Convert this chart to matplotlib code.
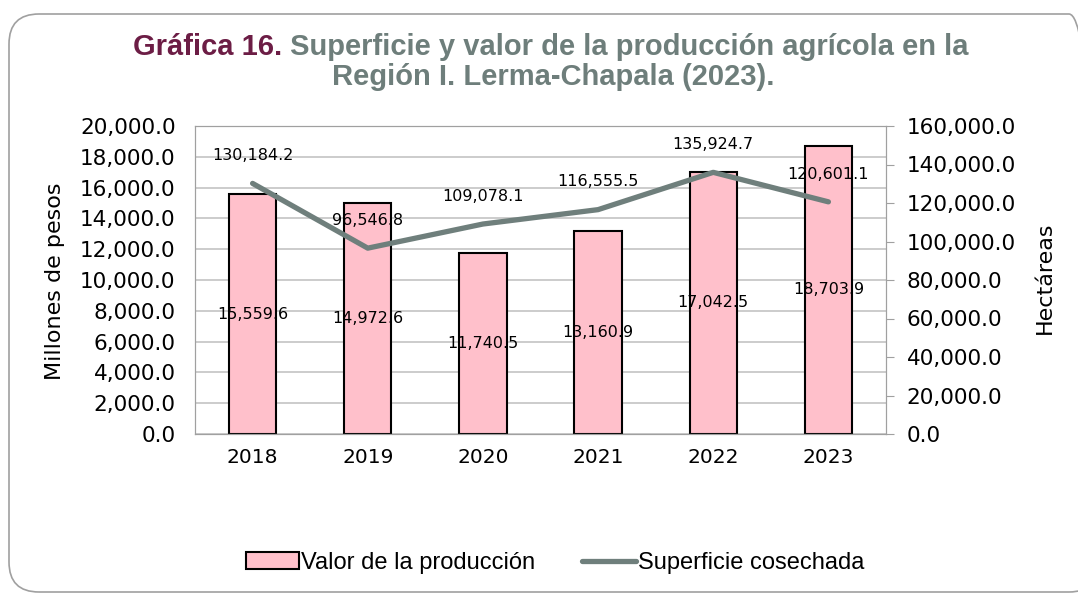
import numpy as np
import matplotlib
matplotlib.use("Agg")
import matplotlib.pyplot as plt
from matplotlib.patches import FancyBboxPatch, Patch
from matplotlib.lines import Line2D
from matplotlib.ticker import FuncFormatter
from matplotlib.transforms import IdentityTransform

# data
years = ["2018", "2019", "2020", "2021", "2022", "2023"]
valor = [15559.6, 14972.6, 11740.5, 13160.9, 17042.5, 18703.9]          # millones de pesos
superficie = [130184.2, 96546.8, 109078.1, 116555.5, 135924.7, 120601.1]  # hectareas

W, H = 1078, 593
maroon = "#6C1D45"
grey_txt = "#6E7E7B"
line_col = "#6F7F7C"
pink = "#FFC0CB"

plt.rcParams["font.family"] = ["DejaVu Sans"]

fig = plt.figure(figsize=(W / 100, H / 100), dpi=100)

# rounded frame around the whole chart
frame = FancyBboxPatch((9, 1), 1090, 578, boxstyle="round,pad=0,rounding_size=30",
                       transform=IdentityTransform(), fill=False,
                       edgecolor="#A0A0A0", linewidth=1.2)
fig.add_artist(frame)

ax1 = fig.add_axes([195 / W, 1 - 434 / H, 691 / W, 308 / H])
x = np.arange(len(years))

ax1.bar(x, valor, width=0.41, color=pink, edgecolor="black", linewidth=1.5, zorder=2)
ax1.set_xlim(-0.5, 5.5)
ax1.set_ylim(0, 20000)
ax1.set_yticks(np.arange(0, 20001, 2000))
ax1.set_xticks(x)
ax1.set_xticklabels(years)
ax1.yaxis.set_major_formatter(FuncFormatter(lambda v, p: f"{v:,.1f}"))
ax1.set_axisbelow(True)
ax1.grid(axis="y", color="#C8C8C8", linewidth=1.3)
ax1.tick_params(axis="y", length=0, pad=14, labelsize=15.5)
ax1.tick_params(axis="x", length=0, pad=10, labelsize=14.5)
for s in ax1.spines.values():
    s.set_color("#A0A0A0")

for i, v in enumerate(valor):
    ax1.text(i, v / 2, f"{v:,.1f}", ha="center", va="center", fontsize=11.5)

ax2 = ax1.twinx()
ax2.plot(x, superficie, color=line_col, linewidth=3.8, solid_capstyle="round")
ax2.set_ylim(0, 160000)
ax2.set_yticks(np.arange(0, 160001, 20000))
ax2.yaxis.set_major_formatter(FuncFormatter(lambda v, p: f"{v:,.1f}"))
ax2.tick_params(axis="y", length=6, color="#A0A0A0", pad=9, labelsize=15.5)
for s in ax2.spines.values():
    s.set_color("#A0A0A0")

for i, v in enumerate(superficie):
    ax2.annotate(f"{v:,.1f}", (i, v), xytext=(0, 20), textcoords="offset points",
                 ha="center", va="center", fontsize=11.5)

fig.text(55 / W, 1 - 281 / H, "Millones de pesos", rotation=90, ha="center", va="center", fontsize=16)
fig.text(1045 / W, 1 - 278 / H, "Hectáreas", rotation=90, ha="center", va="center", fontsize=16)

# legend
handles = [Patch(facecolor=pink, edgecolor="black", linewidth=1.5),
           Line2D([], [], color=line_col, linewidth=3.8, solid_capstyle="round")]
fig.legend(handles, ["Valor de la producción", "Superficie cosechada"], loc="center",
           bbox_to_anchor=(555 / W, 1 - 563 / H), ncol=2, frameon=False,
           prop={"family": "Liberation Sans", "size": 17},
           handlelength=2.25, handletextpad=0.1, columnspacing=2.0)

# title, first line in two colours
tfont = dict(family="Liberation Sans", weight="bold", size=21, va="center")
ta = fig.text(0, 1 - 47 / H, "Gráfica 16.", color=maroon, **tfont)
tb = fig.text(0, 1 - 47 / H, " Superficie y valor de la producción agrícola en la", color=grey_txt, **tfont)
fig.text(553 / W, 1 - 77 / H, "Región I. Lerma-Chapala (2023).", color=grey_txt, ha="center", **tfont)
fig.canvas.draw()
r = fig.canvas.get_renderer()
wa = ta.get_window_extent(r).width
wb = tb.get_window_extent(r).width
x0 = 551 - (wa + wb) / 2
ta.set_x(x0 / W)
tb.set_x((x0 + wa) / W)

fig.savefig("out.png", dpi=100)
